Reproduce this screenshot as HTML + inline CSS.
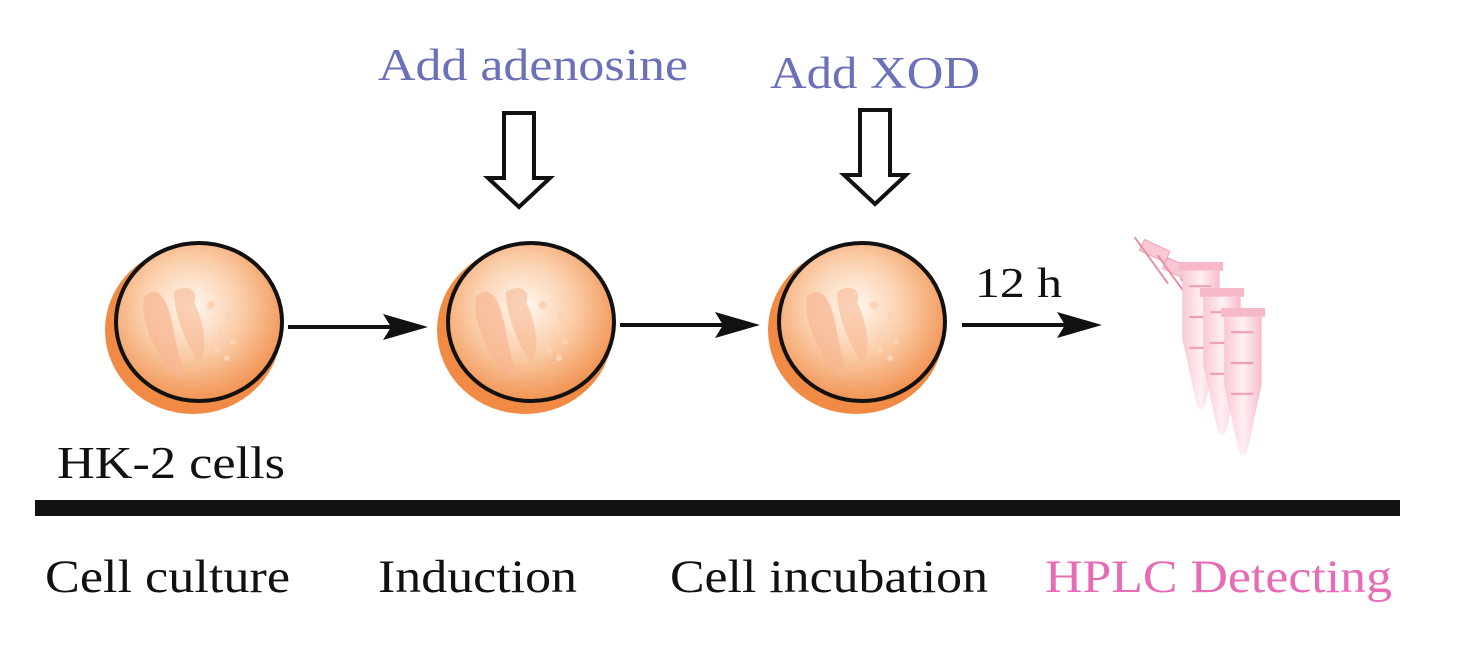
<!DOCTYPE html>
<html><head><meta charset="utf-8"><style>
body{margin:0;background:#fff;}
svg{display:block;}
text{font-family:"Liberation Serif",serif;}
</style></head><body>
<svg width="1476" height="652" viewBox="0 0 1476 652" xmlns="http://www.w3.org/2000/svg">
<defs>
<radialGradient id="g" cx="0.45" cy="0.4" r="0.65">
<stop offset="0" stop-color="#fff8f2"/>
<stop offset="0.45" stop-color="#fbd0ad"/>
<stop offset="1" stop-color="#f08a45"/>
</radialGradient>
<linearGradient id="t" x1="0" x2="1">
<stop offset="0" stop-color="#f9c8d2"/><stop offset="0.5" stop-color="#fff0f3"/><stop offset="1" stop-color="#f7bccb"/>
</linearGradient>
<g id="cell">
<ellipse cx="-6" cy="8" rx="88" ry="84" fill="#f08a45"/>
<ellipse cx="4" cy="-2" rx="80" ry="78" fill="#f9c09a" opacity="0.6"/>
<ellipse cx="0" cy="0" rx="83" ry="79" fill="url(#g)" stroke="#111" stroke-width="4"/>
<path d="M-55,-25 C-40,-40 -30,-20 -25,10 C-20,40 -10,60 -20,55 C-40,40 -60,0 -55,-25Z" fill="#f6b791" opacity="0.7"/>
<path d="M-25,-30 C-10,-40 0,-30 -5,-20 C5,0 10,30 0,40 C-15,20 -25,-10 -25,-30Z" fill="#f6b791" opacity="0.6"/>
<circle cx="12" cy="-17" r="4" fill="#fbd3b5"/><circle cx="30" cy="-6" r="4" fill="#fbd3b5"/>
<circle cx="22" cy="12" r="4" fill="#fbd3b5"/><circle cx="34" cy="20" r="3" fill="#fbd3b5"/>
<circle cx="18" cy="28" r="3" fill="#fbd3b5"/><circle cx="28" cy="36" r="3" fill="#fbd3b5"/>
</g>
<g id="arr"><line x1="0" y1="0" x2="110" y2="0" stroke="#111" stroke-width="4"/>
<path d="M95,-13 L140,0 L95,13 L103,0Z" fill="#111"/></g>
<g id="down"><path d="M-15,0 H15 V65 H31 L0,94 L-31,65 H-15Z" fill="#fff" stroke="#111" stroke-width="4" stroke-linejoin="miter"/></g>
<g id="tube">
<rect x="-26" y="0" width="52" height="8" fill="#f7b9c8"/>
<path d="M-22,8 H22 V70 L5,130 Q0,138 -5,130 L-22,70Z" fill="url(#t)"/>
<line x1="-14" y1="22" x2="12" y2="22" stroke="#f0a0b4" stroke-width="2"/>
<line x1="-14" y1="50" x2="12" y2="50" stroke="#f0a0b4" stroke-width="2"/>
<line x1="-14" y1="78" x2="12" y2="78" stroke="#f0a0b4" stroke-width="2"/>
</g>
<g id="cap"><rect x="0" y="-6" width="28" height="12" fill="#f9c8d2" stroke="#f2a0b5" stroke-width="1"/>
<line x1="-10" y1="-4" x2="40" y2="24" stroke="#e890a8" stroke-width="2"/></g>
</defs>
<use href="#cell" x="199" y="322"/>
<use href="#cell" x="531" y="322"/>
<use href="#cell" x="862" y="322"/>
<use href="#arr" x="288" y="327"/>
<use href="#arr" x="620" y="325"/>
<use href="#arr" x="962" y="325"/>
<use href="#down" x="519" y="113"/>
<use href="#down" x="875" y="110"/>
<use href="#cap" x="1142" y="245" transform="rotate(25 1142 245)"/>
<use href="#cap" x="1165" y="263" transform="rotate(25 1165 263)"/>
<use href="#cap" x="1188" y="286" transform="rotate(25 1188 286)"/>
<g transform="translate(1201,262) scale(0.85,1.1)"><use href="#tube"/></g>
<g transform="translate(1222,288) scale(0.85,1.1)"><use href="#tube"/></g>
<g transform="translate(1243,308) scale(0.85,1.1)"><use href="#tube"/></g>
<text x="378" y="80" font-size="45" fill="#6b70b9" textLength="310" lengthAdjust="spacingAndGlyphs">Add adenosine</text>
<text x="770" y="88" font-size="45" fill="#6b70b9" textLength="210" lengthAdjust="spacingAndGlyphs">Add XOD</text>
<text x="975" y="297" font-size="42" fill="#111" textLength="87" lengthAdjust="spacingAndGlyphs">12 h</text>
<text x="57" y="478" font-size="46" fill="#111" textLength="228" lengthAdjust="spacingAndGlyphs">HK-2 cells</text>
<rect x="35" y="500" width="1365" height="16" fill="#111"/>
<text x="45" y="592" font-size="47" fill="#111" textLength="245" lengthAdjust="spacingAndGlyphs">Cell culture</text>
<text x="378" y="592" font-size="47" fill="#111" textLength="199" lengthAdjust="spacingAndGlyphs">Induction</text>
<text x="670" y="592" font-size="47" fill="#111" textLength="318" lengthAdjust="spacingAndGlyphs">Cell incubation</text>
<text x="1045" y="592" font-size="47" fill="#e86bb5" textLength="347" lengthAdjust="spacingAndGlyphs">HPLC Detecting</text>
</svg>
</body></html>
